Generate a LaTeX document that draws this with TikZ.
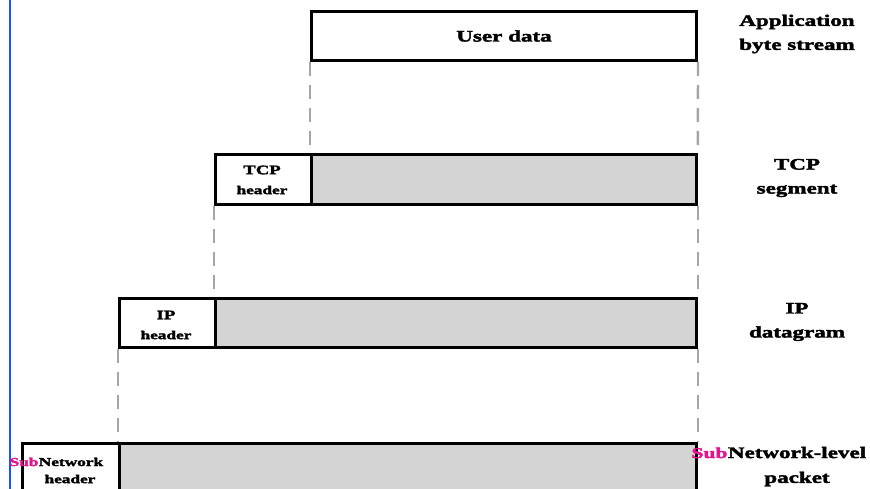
\documentclass[tikz,border=0pt]{standalone}
\usepackage{fontspec}
\setmainfont{Liberation Serif}[FakeStretch=1.44, BoldFeatures={FakeBold=2.5}]
\definecolor{subpink}{RGB}{228,20,140}
\definecolor{fillgray}{RGB}{212,212,212}
\definecolor{dashgray}{RGB}{165,165,165}
\definecolor{edgeblue}{RGB}{30,80,250}
\begin{document}
\begin{tikzpicture}[x=1pt,y=-1pt,
  box/.style={draw=black, line width=3pt, anchor=north west, inner sep=0pt, font=\bfseries\fontsize{16}{18}\selectfont},
  hdr/.style={draw=black, line width=2.8pt, fill=white, anchor=north west, inner sep=0pt, align=center},
  payload/.style={draw=black, line width=2.8pt, fill=fillgray, anchor=north west, inner sep=0pt},
  dashline/.style={draw=dashgray, line width=2.4pt, dash pattern=on 14pt off 9pt},
  lbl/.style={align=center, font=\bfseries\fontsize{16}{24}\selectfont, inner sep=0pt},
  hbig/.style={font=\bfseries\fontsize{13}{14}\selectfont, inner sep=0pt},
  hsmall/.style={font=\bfseries\fontsize{12}{14}\selectfont, inner sep=0pt},
  subtxt/.style={text=subpink, inner sep=0pt, anchor=base east}
]
\useasboundingbox (0,0) rectangle (870,489);
\clip (0,0) rectangle (870,489);
% blue margin line
\draw[edgeblue, line width=2.5pt] (10,0) coordinate (bt) -- (10,489) coordinate (bb);

% Application row
\node[box, minimum width=385pt, minimum height=49pt] (ud) at (310,10) {User data};
\node[lbl] (applbl) at (797,34) {Application\\byte stream};

% TCP row
\node[hdr, minimum width=96pt, minimum height=50pt] (tcph) at (214,153) {};
\node[hbig] (tcpt1) at (262,170) {TCP};
\node[hsmall] (tcpt2) at (262,190) {header};
\node[payload, minimum width=385pt, minimum height=50pt] (tcpd) at (310,153) {};
\node[lbl] (tcplbl) at (797,178) {TCP\\segment};

% IP row
\node[hdr, minimum width=96pt, minimum height=49pt] (iph) at (118,297) {};
\node[hbig] (ipt1) at (166,315) {IP};
\node[hsmall] (ipt2) at (166,335) {header};
\node[payload, minimum width=481pt, minimum height=49pt] (ipd) at (214,297) {};
\node[lbl] (iplbl) at (797,322) {IP\\datagram};

% SubNetwork row
\node[hdr, minimum width=97pt, minimum height=60pt] (snh) at (21,442) {};
\node[hsmall, anchor=base] (snt1) at (71,466) {Network};
\node[subtxt, font=\bfseries\fontsize{12}{14}\selectfont] (snsub) at (snt1.base west) {Sub};
\node[hsmall] (snt2) at (70,479) {header};
\node[payload, minimum width=577pt, minimum height=60pt] (snd) at (118,442) {};
\node[font=\bfseries\fontsize{16}{18}\selectfont, inner sep=0pt, anchor=base] (snl1) at (797,458) {Network-level};
\node[subtxt, font=\bfseries\fontsize{15}{18}\selectfont] (snlsub) at (snl1.base west) {Sub};
\node[font=\bfseries\fontsize{16}{18}\selectfont, inner sep=0pt] (snl2) at (797,479) {packet};

% dashed guide lines
\draw[dashline] (ud.south west) -- (tcpd.north west);
\draw[dashline] (ud.south east) -- (tcpd.north east);
\draw[dashline] (tcph.south west) -- (ipd.north west -| tcph.south west);
\draw[dashline] (tcpd.south east) -- (ipd.north east);
\draw[dashline] (iph.south west) -- (snd.north west);
\draw[dashline] (ipd.south east) -- (snd.north east);
\end{tikzpicture}
\end{document}
